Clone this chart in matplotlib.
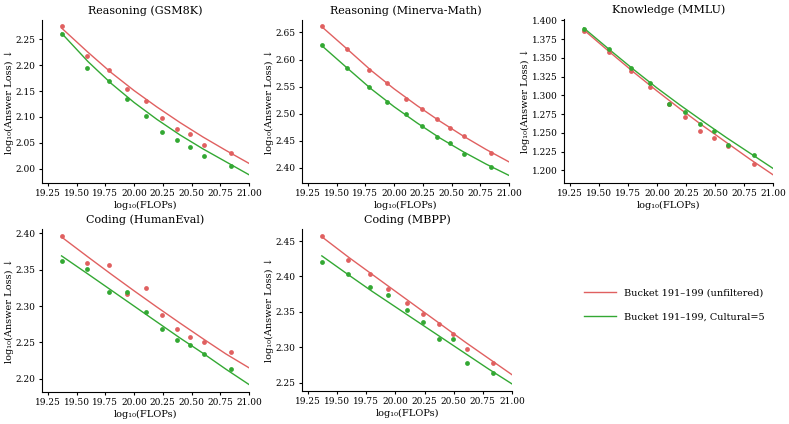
import matplotlib
matplotlib.use("Agg")
import matplotlib.pyplot as plt
import numpy as np

plt.rcParams['font.family'] = ['DejaVu Serif']

# x positions of the runs (log10 FLOPs)
flops = [19.37, 19.59, 19.78, 19.94, 20.10, 20.24, 20.37, 20.49, 20.61, 20.84]
# x positions where the fitted curves were read
fit_x = [19.37, 19.6, 19.8, 20.0, 20.2, 20.4, 20.6, 20.8, 21.0]

titles = ["Reasoning (GSM8K)", "Reasoning (Minerva-Math)", "Knowledge (MMLU)",
          "Coding (HumanEval)", "Coding (MBPP)"]

# measured points: unfiltered / cultural=5
gsm_red = [2.275, 2.218, 2.191, 2.153, 2.130, 2.098, 2.077, 2.067, 2.045, 2.031]
gsm_green = [2.260, 2.195, 2.169, 2.134, 2.102, 2.070, 2.055, 2.041, 2.024, 2.005]
minerva_red = [2.661, 2.619, 2.581, 2.557, 2.528, 2.509, 2.491, 2.473, 2.459, 2.428]
minerva_green = [2.627, 2.585, 2.549, 2.521, 2.500, 2.477, 2.457, 2.446, 2.425, 2.402]
mmlu_red = [1.3866, 1.358, 1.3326, 1.3107, 1.2884, 1.271, 1.2531, 1.2433, 1.2326, 1.209]
mmlu_green = [1.389, 1.3625, 1.336, 1.316, 1.289, 1.2777, 1.2612, 1.2522, 1.2344, 1.221]
humaneval_red = [2.396, 2.359, 2.356, 2.316, 2.325, 2.287, 2.269, 2.257, 2.251, 2.237]
humaneval_green = [2.362, 2.351, 2.319, 2.319, 2.292, 2.269, 2.253, 2.246, 2.234, 2.214]
mbpp_red = [2.457, 2.423, 2.403, 2.382, 2.363, 2.347, 2.333, 2.319, 2.298, 2.278]
mbpp_green = [2.421, 2.404, 2.385, 2.373, 2.353, 2.335, 2.312, 2.312, 2.278, 2.264]

# fitted curves
gsm_fit_red = [2.272, 2.225, 2.186, 2.151, 2.119, 2.089, 2.061, 2.035, 2.010]
gsm_fit_green = [2.262, 2.207, 2.165, 2.128, 2.095, 2.065, 2.038, 2.013, 1.988]
minerva_fit_red = [2.661, 2.618, 2.580, 2.546, 2.515, 2.486, 2.459, 2.434, 2.411]
minerva_fit_green = [2.626, 2.583, 2.546, 2.513, 2.483, 2.455, 2.430, 2.407, 2.386]
mmlu_fit_red = [1.3875, 1.357, 1.331, 1.306, 1.282, 1.259, 1.237, 1.215, 1.194]
mmlu_fit_green = [1.390, 1.360, 1.3345, 1.310, 1.287, 1.265, 1.2435, 1.223, 1.2025]
humaneval_fit_red = [2.395, 2.3675, 2.344, 2.321, 2.2985, 2.2765, 2.255, 2.234, 2.215]
humaneval_fit_green = [2.369, 2.344, 2.322, 2.300, 2.278, 2.256, 2.235, 2.213, 2.192]
mbpp_fit_red = [2.456, 2.427, 2.403, 2.379, 2.355, 2.331, 2.307, 2.284, 2.261]
mbpp_fit_green = [2.429, 2.402, 2.379, 2.357, 2.335, 2.313, 2.291, 2.269, 2.248]

points = [(gsm_red, gsm_green), (minerva_red, minerva_green), (mmlu_red, mmlu_green),
          (humaneval_red, humaneval_green), (mbpp_red, mbpp_green)]
fits = [(gsm_fit_red, gsm_fit_green), (minerva_fit_red, minerva_fit_green),
        (mmlu_fit_red, mmlu_fit_green), (humaneval_fit_red, humaneval_fit_green),
        (mbpp_fit_red, mbpp_fit_green)]
ylims = [(1.972, 2.2875), (2.372, 2.673), (1.183, 1.402), (2.1817, 2.406), (2.238, 2.467)]
yticks = [np.arange(2.00, 2.26, 0.05), np.arange(2.40, 2.66, 0.05), np.arange(1.200, 1.401, 0.025),
          np.arange(2.20, 2.41, 0.05), np.arange(2.25, 2.46, 0.05)]
yfmt = ["%.2f", "%.2f", "%.3f", "%.2f", "%.2f"]

labels = ["Bucket 191\u2013199 (unfiltered)", "Bucket 191\u2013199, Cultural=5"]
red = "#e06060"
green = "#33a833"

W, H = 789, 424
# axes boxes in pixels: left, right, top, bottom
boxes = [(42, 249, 20, 183), (302, 509, 20, 183), (564, 773, 19, 183),
         (42, 249, 229, 392), (302, 512, 229, 391)]

fig = plt.figure(figsize=(7.89, 4.24), dpi=100)
for i in range(5):
    l, r, t, b = boxes[i]
    ax = fig.add_axes([l / W, 1 - b / H, (r - l) / W, (b - t) / H])
    pr, pg = points[i]
    fr, fg = fits[i]
    ax.plot(fit_x, fr, color=red, lw=1.0, label=labels[0])
    ax.plot(fit_x, fg, color=green, lw=1.0, label=labels[1])
    ax.scatter(flops, pr, color=red, s=12, zorder=3, linewidths=0)
    ax.scatter(flops, pg, color=green, s=12, zorder=3, linewidths=0)
    ax.set_xlim(19.2, 21.0)
    ax.set_ylim(*ylims[i])
    ax.set_xticks([19.25, 19.5, 19.75, 20.0, 20.25, 20.5, 20.75, 21.0])
    ax.set_xticklabels(["%.2f" % v for v in [19.25, 19.5, 19.75, 20.0, 20.25, 20.5, 20.75, 21.0]])
    ax.set_yticks(yticks[i])
    ax.set_yticklabels([yfmt[i] % v for v in yticks[i]])
    ax.tick_params(labelsize=6.5, length=2.5, width=0.8, pad=2)
    ax.spines['top'].set_visible(False)
    ax.spines['right'].set_visible(False)
    ax.set_title(titles[i], fontsize=8, pad=4)
    ax.set_xlabel("log\u2081\u2080(FLOPs)", fontsize=7, labelpad=2)
    ax.set_ylabel("log\u2081\u2080(Answer Loss) \u2193", fontsize=7, labelpad=1)
    if i == 0:
        handles, labs = ax.get_legend_handles_labels()

lax = fig.add_axes([560 / W, 1 - 360 / H, 229 / W, 110 / H])
lax.axis('off')
lax.legend(handles, labs, loc='center', frameon=False, fontsize=7,
           handlelength=3.3, labelspacing=1.5)

fig.savefig("out.png", dpi=100)
